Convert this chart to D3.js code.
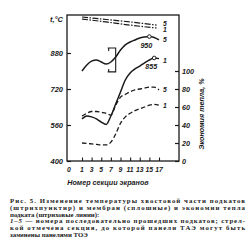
<!DOCTYPE html>
<html>
<head>
<meta charset="utf-8">
<script src="https://cdn.jsdelivr.net/npm/d3@7"></script>
<style>
  body { margin: 0; background: #fff; }
  svg { display: block; }
  .lbl { font-family: "Liberation Sans", Arial, sans-serif; font-style: italic; font-weight: bold; fill: #1a1a1a; }
  .cap { font-family: "Liberation Serif", "DejaVu Serif", serif; font-weight: bold; fill: #1a1a1a; font-size: 6.8px; }
</style>
</head>
<body>
<svg id="chart" width="252" height="249"></svg>
<script>
// sections of the screens
const sections = [1, 2, 3, 4, 5, 6, 7, 8, 9, 10, 11, 12, 13, 14, 15, 16, 17];
const xTicks = [1, 3, 5, 7, 9, 11, 13, 15, 17];
const tTicks = [400, 560, 720, 880];
const pctTicks = [0, 20, 40, 60, 80, 100];

// membranes, solid, t °C
const membrane5 = [800, 827, 844, 849, 840, 831, 840, 862, 893, 916, 929, 938, 947, 951, 953, 949, 938];
const membrane1 = [587, 600, 596, 587, 573, 562, 600, 653, 707, 760, 791, 809, 822, 836, 849, 858, 855];

// tail part, dash-dot, t °C
const tailSections = [1, 6, 11, 16.5];
const tail5 = [1040, 1029, 1018, 1004];
const tail1 = [1031, 1018, 1004, 991];

// heat economy, dashed, %
const economy5 = [50, 53, 55, 55, 54, 53, 51, 62, 71, 74, 77, 79, 80, 81, 82, 82, 79];
const economy1 = [20, 19.5, 19, 18.5, 18, 18, 21, 30, 42, 49, 53, 56, 58, 60, 62, 63, 62];

// marked section (bracket) and circle markers
const bracketSection = 8;
const bracketTemps = [902, 796];
const markers = [{ s: 15, t: 953, text: "950" }, { s: 16, t: 858, text: "855" }];

const captionLines = [
  "Рис. 5. Изменение температуры хвостовой части подкатов",
  "(штрихпунктир) и мембран (сплошные) и экономии тепла",
  "подката (штриховые линии):",
  "1–5 — номера последовательно прошедших подкатов; стрел-",
  "кой отмечена секция, до которой панели ТАЭ могут быть",
  "заменены панелями ТОЭ"
];

const svg = d3.select("#chart");
const fLeft = 67, fRight = 179, fTop = 15, fBottom = 161;
const ink = "#1a1a1a";

const x = d3.scaleLinear().domain([1, 17]).range([82, 159]);
const yT = d3.scaleLinear().domain([400, 880]).range([fBottom, 53]);
const yP = d3.scaleLinear().domain([0, 100]).range([fBottom, 71]);

// frame
svg.append("rect")
  .attr("x", fLeft).attr("y", fTop)
  .attr("width", fRight - fLeft).attr("height", fBottom - fTop)
  .attr("fill", "none").attr("stroke", ink).attr("stroke-width", 1.3);

// left axis
const gl = svg.append("g").attr("transform", `translate(${fLeft},0)`)
  .call(d3.axisRight(yT).tickValues(tTicks).tickSize(4).tickFormat(""));
gl.select(".domain").remove();
gl.selectAll("line").attr("stroke", ink).attr("stroke-width", 1.2);
svg.selectAll(".tl").data(tTicks).enter().append("text")
  .attr("class", "lbl").attr("font-size", 7.5)
  .attr("x", 63).attr("y", d => yT(d) + 2.6)
  .attr("text-anchor", "end").text(d => d);
svg.append("text").attr("class", "lbl").attr("font-size", 7.5)
  .attr("x", 63).attr("y", 22).attr("text-anchor", "end").text("t,°C");

// right axis
const gr = svg.append("g").attr("transform", `translate(${fRight},0)`)
  .call(d3.axisLeft(yP).tickValues(pctTicks).tickSize(4).tickFormat(""));
gr.select(".domain").remove();
gr.selectAll("line").attr("stroke", ink).attr("stroke-width", 1.2);
svg.selectAll(".pl").data(pctTicks).enter().append("text")
  .attr("class", "lbl").attr("font-size", 7.2)
  .attr("x", 182).attr("y", d => yP(d) + 2.6)
  .text(d => d);
svg.append("text").attr("class", "lbl").attr("font-size", 7.2)
  .attr("transform", "translate(204,114) rotate(-90)")
  .attr("text-anchor", "middle").text("Экономия тепла, %");

// bottom axis
const gb = svg.append("g").attr("transform", `translate(0,${fBottom})`)
  .call(d3.axisTop(x).tickValues(xTicks).tickSize(3.5).tickFormat(""));
gb.select(".domain").remove();
gb.selectAll("line").attr("stroke", ink).attr("stroke-width", 1.1);
svg.selectAll(".xl").data(xTicks).enter().append("text")
  .attr("class", "lbl").attr("font-size", 6.8)
  .attr("x", d => x(d)).attr("y", 172)
  .attr("text-anchor", "middle").text(d => d);
svg.append("text").attr("class", "lbl").attr("font-size", 6.8)
  .attr("x", fLeft + 2).attr("y", 172).attr("text-anchor", "middle").text("0");
svg.append("text").attr("class", "lbl").attr("font-size", 7.2)
  .attr("x", 108).attr("y", 185).attr("text-anchor", "middle")
  .attr("font-weight", "normal").text("Номер секции экранов");

// curves
const lineT = d3.line().x(d => x(d[0])).y(d => yT(d[1])).curve(d3.curveMonotoneX);
const lineP = d3.line().x(d => x(d[0])).y(d => yP(d[1])).curve(d3.curveMonotoneX);

function draw(path, dash, width) {
  svg.append("path").attr("d", path)
    .attr("fill", "none").attr("stroke", ink)
    .attr("stroke-width", width)
    .attr("stroke-dasharray", dash);
}

draw(lineT(d3.zip(tailSections, tail5)), "6,1.5,1.5,1.5", 1.2);
draw(lineT(d3.zip(tailSections, tail1)), "6,1.5,1.5,1.5", 1.2);
draw(lineT(d3.zip(sections, membrane5)), null, 1.5);
draw(lineT(d3.zip(sections, membrane1)), null, 1.5);
draw(lineP(d3.zip(sections, economy5)), "4.5,2.5", 1.3);
draw(lineP(d3.zip(sections, economy1)), "4.5,2.5", 1.3);

// circle markers and values
svg.selectAll(".mk").data(markers).enter().append("circle")
  .attr("cx", d => x(d.s)).attr("cy", d => yT(d.t)).attr("r", 1.8)
  .attr("fill", "#fff").attr("stroke", ink).attr("stroke-width", 1);
svg.selectAll(".mt").data(markers).enter().append("text")
  .attr("class", "lbl").attr("font-size", 7.2)
  .attr("x", d => x(d.s) - 3).attr("y", d => yT(d.t) + 11)
  .attr("text-anchor", "middle").text(d => d.text);

// curve numbers
const curveLabels = [
  { y: yT(tail5[3]) - 1.5, n: "5" },
  { y: yT(tail1[3]) + 2, n: "1" },
  { y: yT(membrane5[14]) + 3, n: "5" },
  { y: yT(membrane1[16]) + 2, n: "1" },
  { y: yP(economy5[16]), n: "5" },
  { y: yP(economy1[16]) + 0.5, n: "1" }
];
svg.selectAll(".cl").data(curveLabels).enter().append("text")
  .attr("class", "lbl").attr("font-size", 6.8)
  .attr("x", 165).attr("y", d => d.y + 2.4)
  .attr("text-anchor", "middle").text(d => d.n);

// bracket marking the section
const bx = x(bracketSection), by0 = yT(bracketTemps[0]), by1 = yT(bracketTemps[1]);
svg.append("path")
  .attr("d", `M${bx - 8},${by0}H${bx}V${by1}H${bx - 8}`)
  .attr("fill", "none").attr("stroke", ink).attr("stroke-width", 1.1);
svg.append("path")
  .attr("d", `M${bx - 7},${by0}v3M${bx - 7},${by1}v-3`)
  .attr("fill", "none").attr("stroke", ink).attr("stroke-width", 1.1);

// caption
const capY = [203, 209.8, 216.6, 223.4, 230.2, 237];
const justified = [true, true, false, true, true, false];
captionLines.forEach((t, i) => {
  const tx = svg.append("text").attr("class", "cap")
    .attr("x", 10).attr("y", capY[i]);
  if (justified[i]) tx.attr("textLength", 235).attr("lengthAdjust", "spacing");
  if (i === 0) {
    tx.append("tspan").attr("font-weight", 900).text("Рис. 5.");
    tx.append("tspan").text(t.slice(7));
  } else if (i === 3) {
    tx.append("tspan").attr("font-style", "italic").text("1–5");
    tx.append("tspan").text(t.slice(3));
  } else {
    tx.text(t);
  }
});
</script>
</body>
</html>
